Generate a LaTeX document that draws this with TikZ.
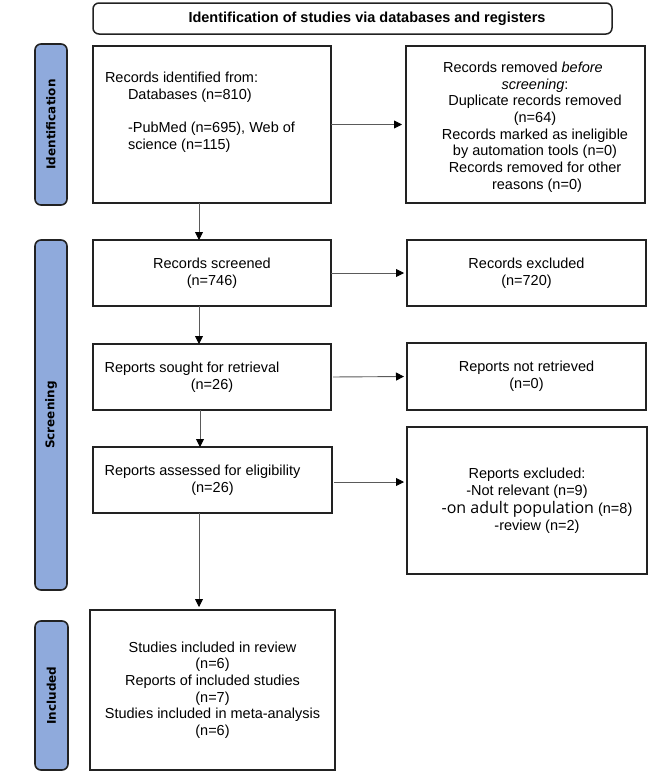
\documentclass[tikz,border=0pt]{standalone}
\usepackage{fontspec}
\setmainfont{Liberation Sans}
\newfontfamily\barfont{DejaVu Sans}
\newfontfamily\opensans{Open Sans}
\usetikzlibrary{arrows.meta}
\definecolor{barblue}{RGB}{143,170,220}
\definecolor{edgecol}{RGB}{34,34,34}
\definecolor{arrowgray}{RGB}{90,90,90}
\begin{document}
\begin{tikzpicture}[x=1pt,y=-1pt,
  every node/.style={inner sep=0pt, outer sep=0pt},
  txt/.style={font=\fontsize{14.5}{16.7}\selectfont},
  boxnode/.style={draw=edgecol, line width=1.5pt, fill=white, font=\fontsize{14.5}{16.7}\selectfont, align=center},
  barnode/.style={draw=edgecol, line width=1.6pt, fill=barblue, rounded corners=6pt, rotate=90,
    font=\barfont\bfseries\fontsize{12}{14}\selectfont},
  flow/.style={draw=arrowgray, line width=0.9pt, -{Triangle[length=8pt,width=8pt,color=black]}}
]
\useasboundingbox (0,0) rectangle (669,774);

% title
\node[draw=edgecol, line width=1.5pt, rounded corners=6pt, minimum width=519pt, minimum height=31pt,
  font=\bfseries\fontsize{14.5}{16.7}\selectfont] (title) at (352.5,18.5)
  {\hspace*{29pt}Identification of studies via databases and registers};

% side bars
\node[barnode, minimum width=161pt, minimum height=32pt] (idbar) at (51,124.5) {Identification};
\node[barnode, minimum width=350pt, minimum height=32pt] (scrbar) at (51,415) {Screening};
\node[barnode, minimum width=149pt, minimum height=33pt] (incbar) at (51.5,695.5) {Included};

% identification row
\node[boxnode, minimum width=238pt, minimum height=157pt] (box1) at (212,124.5) {};
\node[txt, align=left, anchor=west] (box1text) at (105,112.5)
  {Records identified from:\\
   \hspace*{23pt}Databases (n=810)\\[16.7pt]
   \hspace*{23pt}-PubMed (n=695), Web of\\
   \hspace*{23pt}science (n=115)};
\node[boxnode, minimum width=239pt, minimum height=157pt] (box2) at (525.5,124.5) {};
\node[txt, align=center] (box2text) at (535,127)
  {Records removed \textit{before}\hspace*{24pt}\\
   \textit{screening}:\hspace*{16pt}\\
   Duplicate records removed\\
   (n=64)\hspace*{12pt}\\
   Records marked as ineligible\\
   by automation tools (n=0)\\
   Records removed for other\\
   \hspace*{4pt}reasons (n=0)};

% screening rows
\node[boxnode, minimum width=238pt, minimum height=66pt] (screened) at (212,273) {Records screened\\(n=746)};
\node[boxnode, minimum width=239pt, minimum height=66pt] (excluded) at (526.5,273) {Records excluded\\(n=720)};
\node[boxnode, minimum width=238pt, minimum height=66pt] (sought) at (212,377)
  {Reports sought for retrieval\hspace*{40pt}\\(n=26)};
\node[boxnode, minimum width=239pt, minimum height=67pt] (notret) at (526.5,376.5) {Reports not retrieved\\(n=0)};
\node[boxnode, minimum width=239pt, minimum height=66pt] (assessed) at (212.5,480)
  {Reports assessed for eligibility\hspace*{20pt}\\(n=26)};
\node[boxnode, minimum width=240pt, minimum height=147pt] (repexcl) at (527,500.5)
  {Reports excluded:\\
   -Not relevant (n=9)\hspace*{2pt}\\[1.5pt]
   \hspace*{20pt}{\opensans\fontsize{16}{19}\selectfont -on adult population} (n=8)\\
   \hspace*{20pt}-review (n=2)};

% included
\node[boxnode, minimum width=245pt, minimum height=160pt] (incl) at (212.5,690)
  {Studies included in review\\(n=6)\\Reports of included studies\\(n=7)\\Studies included in meta-analysis\\(n=6)};

% connectors
\coordinate (aexit) at ([yshift=-2pt]assessed.east);
\draw[flow, shorten >=4pt] (box1.east) -- (box2.west);
\draw[flow] ([xshift=-13pt]box1.south) -- ([xshift=-13pt]screened.north);
\draw[flow, shorten >=3pt] (screened.east) -- (excluded.west);
\draw[flow] ([xshift=-13pt]screened.south) -- ([xshift=-13pt]sought.north);
\draw[flow, shorten <=2pt, shorten >=3pt] (sought.east) -- (notret.west);
\draw[flow] ([xshift=-12pt]sought.south) -- ([xshift=-12.5pt]assessed.north);
\draw[flow, shorten <=2pt, shorten >=3pt] (aexit) -- (aexit -| repexcl.west);
\draw[flow, shorten >=3pt] ([xshift=-13.5pt]assessed.south) -- ([xshift=-13.5pt]incl.north);
\end{tikzpicture}
\end{document}
